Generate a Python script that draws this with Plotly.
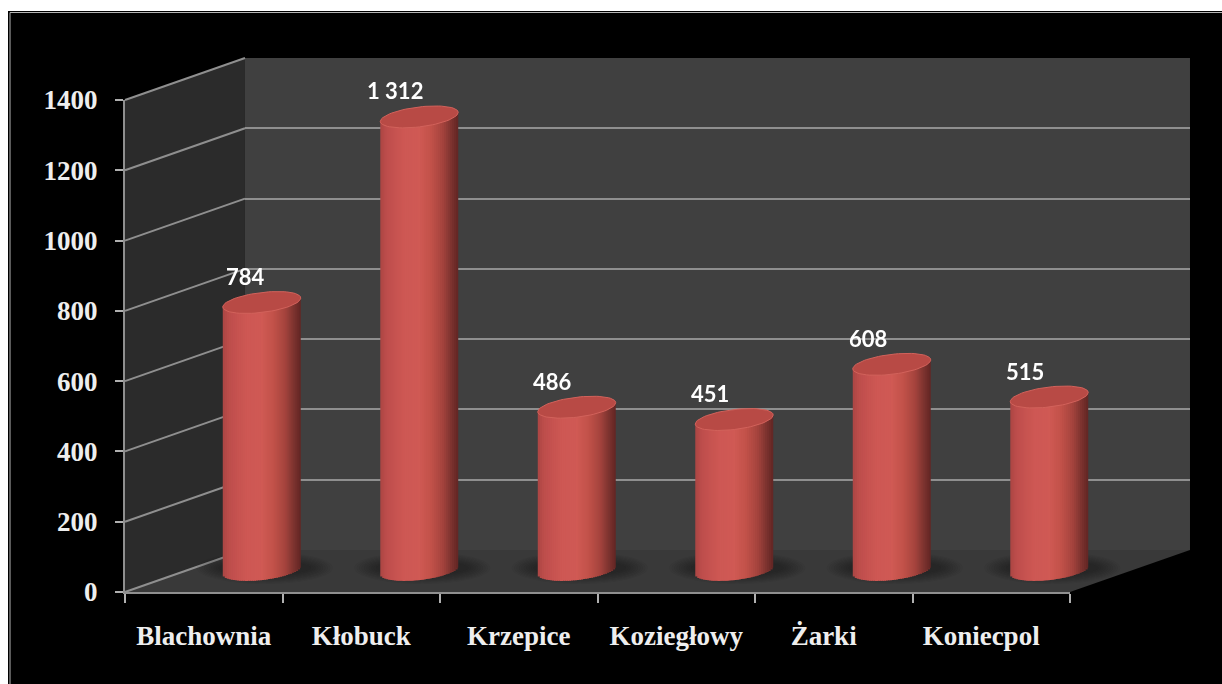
import numpy as np
import plotly.graph_objects as go

CATEGORIES = ["Blachownia", "Kłobuck", "Krzepice", "Koziegłowy", "Żarki", "Koniecpol"]
VALUES = [784, 1312, 486, 451, 608, 515]
GRID_VALUES = [0, 200, 400, 600, 800, 1000, 1200, 1400]

W, H = 1222, 684
Y_MAX = 1400
GRID = "#8f8f8f"
# shading anchors across the cylinder, left edge to right edge (r, g, b)
SHADE_POS = [0.0, 0.08, 0.3, 0.5, 0.65, 0.8, 0.92, 1.0]
SHADE_RGB = [(172, 70, 68), (190, 78, 76), (206, 88, 84), (208, 90, 84), (194, 82, 74),
             (165, 68, 62), (122, 50, 46), (98, 38, 36)]


def fx(p):
    return p / W


def fy(p):
    return (H - p) / H


def domain_x(a, b):
    return [fx(a), fx(b)]


def domain_y(top, bottom):
    return [fy(bottom), fy(top)]


def poly(points, fill, layer="below"):
    path = "M " + " L ".join(f"{fx(x):.5f},{fy(y):.5f}" for x, y in points) + " Z"
    return dict(type="path", path=path, xref="paper", yref="paper", fillcolor=fill,
                line=dict(width=0), layer=layer)


def seg(x0, y0, x1, y1):
    return dict(type="line", xref="paper", yref="paper", x0=fx(x0), y0=fy(y0), x1=fx(x1), y1=fy(y1),
                line=dict(color=GRID, width=2), layer="below")


def shade(p):
    return "rgb(%d,%d,%d)" % tuple(np.interp(p, SHADE_POS, [c[k] for c in SHADE_RGB]) for k in range(3))


# geometry of the fake-3D box in page pixels
FL, FR, FT, FB = 125, 1070, 100, 592          # front plane
DX, DY = 120, -42                             # depth offset of back wall
BAR_DX = 58                                   # bars sit half-way in depth
BAR_ZERO, BAR_TOP = 578, 86
PX_Y = Y_MAX / (BAR_ZERO - BAR_TOP)           # data units per pixel
PX_X = 6 / (FR - FL)
BAR_W = 0.495
ELL_H = 10 * PX_Y
TILT = 4.5 * PX_Y
BASE_C = 23
Y3_LOW = -100

shapes = [
    dict(type="rect", xref="paper", yref="paper", x0=fx(8), x1=fx(W + 5), y0=fy(H + 5), y1=fy(11),
         fillcolor="#000000", line=dict(width=0), layer="below"),
    dict(type="rect", xref="paper", yref="paper", x0=fx(10), x1=fx(W + 5), y0=fy(H + 5), y1=fy(12.5),
         fillcolor="rgba(0,0,0,0)", line=dict(color="#b5b5b5", width=1), layer="below"),
    poly([(FL, FT), (FL + DX, FT + DY), (FL + DX, FB + DY), (FL, FB)], "#2b2b2b"),
    poly([(FL + DX, FT + DY), (FR + DX, FT + DY), (FR + DX, FB + DY), (FL + DX, FB + DY)], "#404040"),
    poly([(FL, FB), (FL + DX, FB + DY), (FR + DX, FB + DY), (FR, FB)], "#393939"),
]
for g in GRID_VALUES:
    y = FB - (FB - FT) * g / Y_MAX
    shapes.append(seg(FL, y, FL + DX, y + DY))

fig = go.Figure()

# front axes: carries category labels and value ticks
fig.add_trace(go.Scatter(x=CATEGORIES, y=VALUES, mode="markers", opacity=0, hoverinfo="skip",
                         xaxis="x", yaxis="y", showlegend=False))
# back wall axes: carries the gridlines
fig.add_trace(go.Scatter(x=list(range(len(VALUES))), y=VALUES, mode="markers", opacity=0, hoverinfo="skip",
                         xaxis="x2", yaxis="y2", showlegend=False))

xs = np.arange(len(VALUES))
vals = np.array(VALUES, float)

# soft shadows on the floor
STEPS = 10
for i in xs:
    for s in range(STEPS):
        f = 1 - s / STEPS
        rx, ry = 44 + 24 * f, 6 + 10 * f
        cx, cy = i + 3 * PX_X, BASE_C + 2 * PX_Y
        shapes.append(dict(type="circle", xref="x3", yref="y3", layer="below",
                           x0=cx - rx * PX_X, x1=cx + rx * PX_X,
                           y0=cy - ry * PX_Y, y1=cy + ry * PX_Y,
                           fillcolor="rgba(25,25,25,0.045)", line=dict(width=0)))

# cylinder body as thin vertical bars (gives the horizontal shading and the curved foot)
N = 39
sw = BAR_W / N
for j in range(N):
    p = (j + 0.5) / N
    u = p * 2 - 1
    foot = BASE_C + TILT * u - ELL_H * np.sqrt(1 - u * u)
    top = vals + TILT * u
    w = sw * (1.7 if j < N - 1 else 1.0)
    fig.add_trace(go.Bar(x=xs, y=top - foot, base=np.full(len(xs), foot),
                         width=w, offset=-BAR_W / 2 + j * sw,
                         marker=dict(color=shade(p), line=dict(width=0)),
                         xaxis="x3", yaxis="y3", showlegend=False, hoverinfo="skip"))

# cylinder caps
t = np.linspace(0, 2 * np.pi, 73)
for i, v in zip(xs, vals):
    cx = i + BAR_W / 2 * np.cos(t)
    cy = v + ELL_H * np.sin(t) + TILT * np.cos(t)
    fig.add_trace(go.Scatter(x=cx, y=cy, mode="lines", fill="toself", fillcolor="#b84a45",
                             line=dict(color="#d2625b", width=1),
                             xaxis="x3", yaxis="y3", showlegend=False, hoverinfo="skip"))

annotations = []
for i, v in enumerate(VALUES):
    annotations.append(dict(x=i, y=v, xref="x3", yref="y3", showarrow=False,
                            text=f"{v:,}".replace(",", " "),
                            xshift=-16 if i == 0 else -24, yshift=26,
                            font=dict(family="Lato", size=22, color="#ffffff", weight="bold")))

TICK_FONT = dict(family="Liberation Serif", size=27, color="#eeeeee", weight="bold")
# the last two labels sit a little left of their slot centre
TICK_TEXT = [c + ("\u00a0\u00a0\u00a0" if i >= 4 else "") for i, c in enumerate(CATEGORIES)]

fig.update_layout(
    width=W, height=H, margin=dict(l=0, r=0, t=0, b=0), autosize=False, template="none",
    paper_bgcolor="#ffffff", plot_bgcolor="rgba(0,0,0,0)", barmode="overlay",
    shapes=shapes, annotations=annotations, showlegend=False,
    xaxis=dict(domain=domain_x(FL, FR), type="category", categoryorder="array", categoryarray=CATEGORIES,
               range=[-0.5, 5.5], tickson="boundaries", tickmode="array", tickvals=CATEGORIES,
               ticktext=TICK_TEXT, ticks="outside", ticklen=9, tickwidth=1.5,
               tickcolor="#b0b0b0", showgrid=False, showline=True, linecolor=GRID, linewidth=2,
               tickfont=TICK_FONT, ticklabelstandoff=19, anchor="y", zeroline=False, tickangle=0,
               automargin=False),
    yaxis=dict(domain=domain_y(FT, FB), range=[0, Y_MAX], tickvals=GRID_VALUES, ticks="outside", ticklen=8,
               tickwidth=1.5, tickcolor="#b0b0b0", showgrid=False, showline=True, linecolor=GRID, linewidth=2,
               tickfont=TICK_FONT, ticklabelstandoff=12, anchor="x", zeroline=False, automargin=False),
    xaxis2=dict(domain=domain_x(FL + DX, FR + DX), range=[-0.5, 5.5], visible=False, anchor="y2",
                automargin=False),
    yaxis2=dict(domain=domain_y(FT + DY, FB + DY), range=[0, Y_MAX], tickvals=GRID_VALUES, showgrid=True,
                gridcolor=GRID, gridwidth=2, showticklabels=False, ticks="", showline=False, zeroline=False,
                anchor="x2", automargin=False),
    xaxis3=dict(domain=domain_x(FL + BAR_DX, FR + BAR_DX), range=[-0.5, 5.5], visible=False, anchor="y3",
                automargin=False),
    yaxis3=dict(domain=domain_y(BAR_TOP, BAR_ZERO - Y3_LOW / PX_Y), range=[Y3_LOW, Y_MAX], visible=False,
                anchor="x3", automargin=False),
)

fig.write_html("out.html", config={"displayModeBar": False},
               post_script="document.body.style.margin='0';document.body.style.overflow='hidden';")
